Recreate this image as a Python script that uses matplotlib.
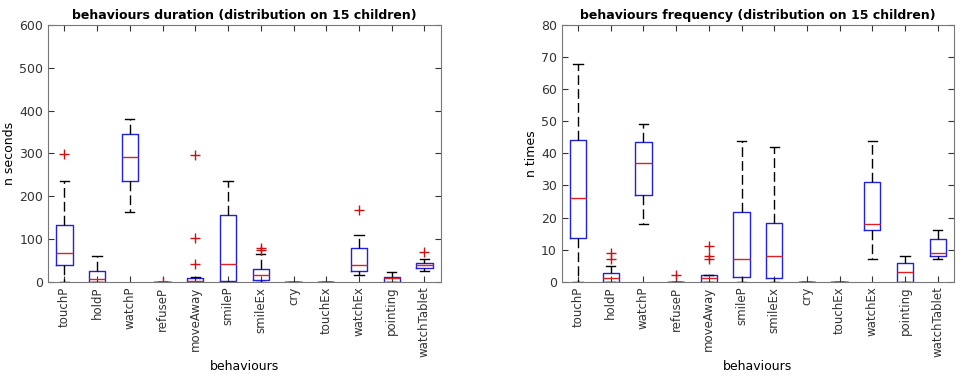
import matplotlib
matplotlib.use('Agg')
import matplotlib.pyplot as plt

behaviours = ['touchP', 'holdP', 'watchP', 'refuseP', 'moveAway', 'smileP',
              'smileEx', 'cry', 'touchEx', 'watchEx', 'pointing', 'watchTablet']

# duration (seconds): whislo, q1, med, q3, whishi, fliers
dur_whislo = [0, 0, 162, 0, 0, 0, 0, 0, 0, 15, 0, 26]
dur_q1 = [38, 0, 235, 0, 0, 2, 4, 0, 0, 26, 0, 33]
dur_med = [67, 6, 292, 0, 2, 41, 15, 0, 0, 38, 8, 39]
dur_q3 = [132, 26, 346, 0, 9, 157, 30, 0, 0, 78, 12, 44]
dur_whishi = [235, 60, 380, 0, 11, 235, 64, 0, 0, 110, 22, 53]
dur_fliers = [[298], [], [], [0], [297, 103, 42], [], [74, 78], [], [], [168], [], [70]]

# frequency (times)
frq_whislo = [0, 0, 18, 0, 0, 0, 0, 0, 0, 7, 0, 7]
frq_q1 = [13.7, 0, 27, 0, 0, 1.5, 1.3, 0, 0, 16, 0, 8.1]
frq_med = [26, 1, 37, 0, 1, 7, 8, 0, 0, 18, 3, 9]
frq_q3 = [44.2, 2.7, 43.5, 0, 2, 21.8, 18.3, 0, 0, 31.2, 5.7, 13.2]
frq_whishi = [68, 5, 49, 0, 2, 44, 42, 0, 0, 44, 8, 16]
frq_fliers = [[], [9, 7], [], [2], [11, 8, 7], [], [], [], [], [], [], []]


def make_stats(lo, q1, med, q3, hi, fl):
    out = []
    for i in range(len(behaviours)):
        out.append(dict(whislo=lo[i], q1=q1[i], med=med[i], q3=q3[i],
                        whishi=hi[i], fliers=fl[i], label=behaviours[i]))
    return out


fig = plt.figure(figsize=(9.63, 3.76), dpi=100)
ax1 = fig.add_axes([0.0498, 0.2508, 0.408, 0.6827])
ax2 = fig.add_axes([0.5833, 0.2508, 0.4074, 0.6827])

panels = [
    (ax1, make_stats(dur_whislo, dur_q1, dur_med, dur_q3, dur_whishi, dur_fliers),
     600, 100, 'n seconds', 'behaviours duration (distribution on 15 children)'),
    (ax2, make_stats(frq_whislo, frq_q1, frq_med, frq_q3, frq_whishi, frq_fliers),
     80, 10, 'n times', 'behaviours frequency (distribution on 15 children)'),
]

for ax, stats, ymax, step, ylab, title in panels:
    ax.bxp(stats, positions=range(1, 13), widths=0.5, capwidths=0.28,
           boxprops=dict(color='#2020e0', linewidth=1.0),
           medianprops=dict(color='#e02020', linewidth=1.0),
           whiskerprops=dict(color='black', linewidth=1.0, linestyle=(0, (7, 3))),
           capprops=dict(color='black', linewidth=1.0),
           flierprops=dict(marker='+', markeredgecolor='#d01010', markersize=7,
                           linestyle='none'))
    ax.set_xlim(0.5, 12.5)
    ax.set_ylim(0, ymax)
    ax.set_yticks(range(0, ymax + 1, step))
    ax.set_xticks(range(1, 13))
    ax.set_xticklabels(behaviours, rotation=90, fontsize=8.5)
    ax.tick_params(axis='y', labelsize=9)
    ax.tick_params(direction='in', top=True, right=True, colors='#333333', length=4)
    for s in ax.spines.values():
        s.set_color('#777777')
    ax.set_ylabel(ylab, fontsize=9, labelpad=2)
    ax.set_xlabel('behaviours', fontsize=9, labelpad=2, family='Liberation Sans Narrow')
    ax.set_title(title, fontsize=9, fontweight='bold', pad=4)

fig.savefig('out.png', dpi=100)
